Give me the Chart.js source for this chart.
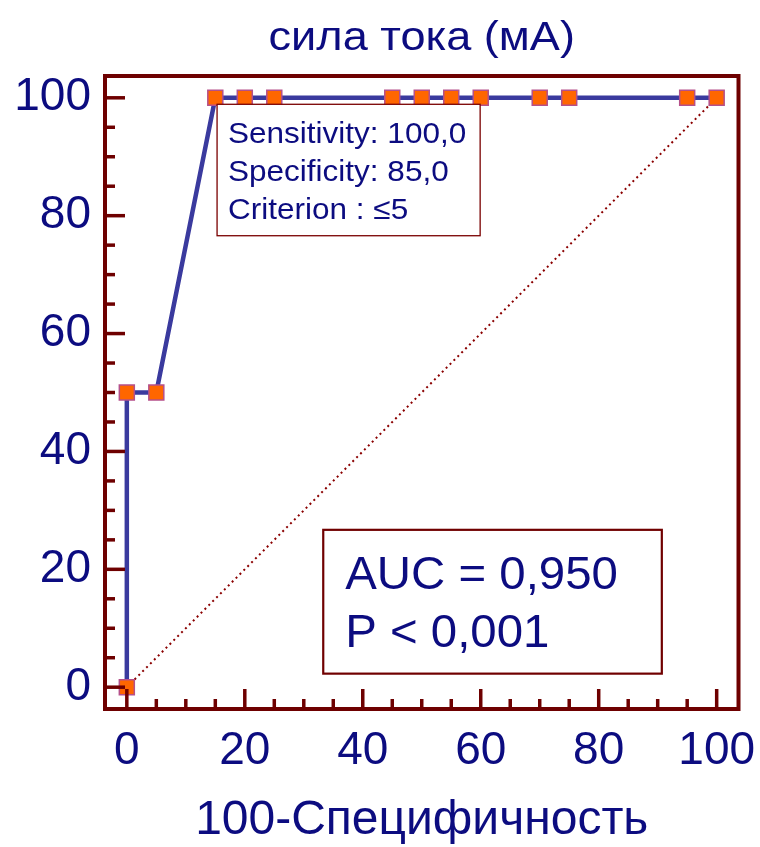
<!DOCTYPE html>
<html><head><meta charset="utf-8">
<script src="https://cdn.jsdelivr.net/npm/chart.js@4/dist/chart.umd.min.js"></script>
<style>html,body{margin:0;padding:0;background:#fff}#wrap{width:760px;height:847px;position:relative}</style>
</head><body><div id="wrap"><canvas id="c" width="760" height="847"></canvas></div>
<script>
// ---- data ----
const fpr  = [0, 0, 5, 15, 20, 25, 45, 50, 55, 60, 70, 75, 95, 100];   // 100-Specificity
const sens = [0, 50, 50, 100, 100, 100, 100, 100, 100, 100, 100, 100, 100, 100]; // Sensitivity
const refX = [0, 100];
const refY = [0, 100];
const majorTicks = [0, 20, 40, 60, 80, 100];
const minorTicks = [5, 10, 15, 25, 30, 35, 45, 50, 55, 65, 70, 75, 85, 90, 95];
const chartTitle = 'сила тока (мА)';
const xTitle = '100-Специфичность';
const infoLines = ['Sensitivity: 100,0', 'Specificity: 85,0', 'Criterion : \u22645'];
const statLines = ['AUC = 0,950', 'P < 0,001'];

// ---- styles ----
const NAVY = '#0c0c80';
const FRAME = '#6e0000';
const FONT = '"Liberation Sans", Arial, sans-serif';

const framePlugin = {
  id: 'frame',
  afterDatasetsDraw(chart) {
    const {ctx, scales: {x, y}} = chart;
    ctx.save();
    // info box (data coords)
    const b1 = {l: x.getPixelForValue(15.3), r: x.getPixelForValue(59.9), t: y.getPixelForValue(98.9), b: y.getPixelForValue(76.6)};
    ctx.fillStyle = '#fff';
    ctx.fillRect(b1.l, b1.t, b1.r - b1.l, b1.b - b1.t);
    ctx.strokeStyle = '#7a0000'; ctx.lineWidth = 1.3;
    ctx.strokeRect(b1.l, b1.t, b1.r - b1.l, b1.b - b1.t);
    ctx.fillStyle = NAVY; ctx.font = '30px ' + FONT; ctx.textBaseline = 'alphabetic'; ctx.textAlign = 'left';
    infoLines.forEach((s, i) => {
      ctx.save(); ctx.translate(b1.l + 11, b1.t + 39 + i * 38); ctx.scale(1.05, 1); ctx.fillText(s, 0, 0); ctx.restore();
    });
    // stat box
    const b2 = {l: x.getPixelForValue(33.3), r: x.getPixelForValue(90.7), t: y.getPixelForValue(26.7), b: y.getPixelForValue(2.3)};
    ctx.fillStyle = '#fff';
    ctx.fillRect(b2.l, b2.t, b2.r - b2.l, b2.b - b2.t);
    ctx.strokeStyle = '#700000'; ctx.lineWidth = 2.2;
    ctx.strokeRect(b2.l, b2.t, b2.r - b2.l, b2.b - b2.t);
    ctx.fillStyle = NAVY; ctx.font = '46px ' + FONT;
    statLines.forEach((s, i) => {
      ctx.save(); ctx.translate(b2.l + 22, b2.t + 59 + i * 58); ctx.scale(1.03, 1); ctx.fillText(s, 0, 0); ctx.restore();
    });
    ctx.restore();
  },
  afterDraw(chart) {
    const {ctx, chartArea: a, scales: {x, y}} = chart;
    ctx.save();
    ctx.strokeStyle = FRAME;
    ctx.lineWidth = 4;
    ctx.lineCap = 'butt';
    ctx.strokeRect(a.left, a.top, a.right - a.left, a.bottom - a.top);
    ctx.lineWidth = 3.5;
    const tick = (v, len) => {
      const px = x.getPixelForValue(v);
      ctx.beginPath(); ctx.moveTo(px, a.bottom); ctx.lineTo(px, a.bottom - len); ctx.stroke();
      const py = y.getPixelForValue(v);
      ctx.beginPath(); ctx.moveTo(a.left, py); ctx.lineTo(a.left + len, py); ctx.stroke();
    };
    majorTicks.forEach(v => tick(v, 20));
    minorTicks.forEach(v => tick(v, 10));
    // chart title centred over plot area
    ctx.fillStyle = NAVY;
    ctx.font = '41px ' + FONT;
    ctx.textAlign = 'center'; ctx.textBaseline = 'alphabetic';
    ctx.save(); ctx.translate((a.left + a.right) / 2, 50); ctx.scale(1.1, 1); ctx.fillText(chartTitle, 0, 0); ctx.restore();
    ctx.restore();
  }
};

const tickFont = {family: FONT, size: 46};
const axisCommon = {
  type: 'linear', min: -3.7, max: 103.7,
  grid: {display: false, drawTicks: false},
  border: {display: false},
  afterBuildTicks(s) { s.ticks = majorTicks.map(v => ({value: v})); },
};

new Chart(document.getElementById('c'), {
  type: 'scatter',
  data: {
    datasets: [
      {
        label: 'ROC',
        data: fpr.map((v, i) => ({x: v, y: sens[i]})),
        showLine: true,
        borderColor: '#3a3a9e',
        borderWidth: 4.5,
        pointStyle: 'rect',
        pointRadius: 10.6,
        pointHoverRadius: 10.6,
        pointBackgroundColor: '#ff6600',
        pointBorderColor: '#b5508a',
        pointBorderWidth: 1.5,
        order: 0
      },
      {
        label: 'ref',
        data: refX.map((v, i) => ({x: v, y: refY[i]})),
        showLine: true,
        borderColor: '#8b0000',
        borderWidth: 2,
        borderDash: [2, 3.5],
        pointRadius: 0,
        order: 1
      }
    ]
  },
  options: {
    responsive: false,
    animation: false,
    layout: {padding: {top: 76, right: 21.5, left: 0, bottom: 0}},
    plugins: {legend: {display: false}, tooltip: {enabled: false}, title: {display: false}},
    scales: {
      x: Object.assign({}, axisCommon, {
        position: 'bottom',
        ticks: {font: tickFont, color: NAVY, padding: 15, maxRotation: 0, autoSkip: false},
        title: {display: true, text: xTitle, font: {family: FONT, size: 48}, color: NAVY, padding: {top: 0, bottom: -3}},
        afterFit(s) { s.height = 138; s.paddingLeft = 0; s.paddingRight = 0; }
      }),
      y: Object.assign({}, axisCommon, {
        position: 'left',
        ticks: {font: tickFont, color: NAVY, padding: 14, autoSkip: false},
        afterFit(s) { s.width = 105; s.paddingTop = 0; s.paddingBottom = 0; }
      })
    }
  },
  plugins: [framePlugin]
});
</script></body></html>
